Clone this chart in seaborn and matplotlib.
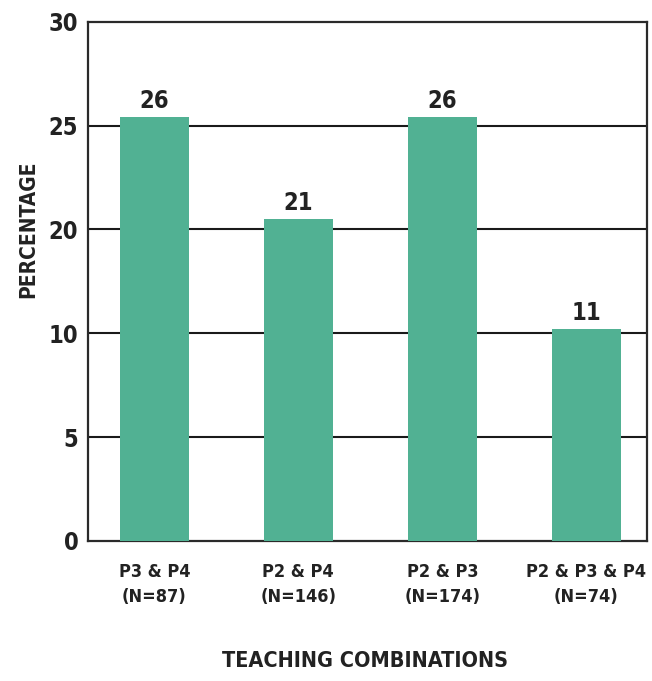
import numpy as np
import pandas as pd
import matplotlib
matplotlib.use("Agg")
import matplotlib.pyplot as plt
import seaborn as sns

categories = ["P3 & P4\n(N=87)", "P2 & P4\n(N=146)", "P2 & P3\n(N=174)", "P2 & P3 & P4\n(N=74)"]
heights = [25.4, 20.5, 25.4, 10.4]
value_labels = ["26", "21", "26", "11"]
yticks = [0, 5, 10, 20, 25, 30]

sns.set_theme(style="white")
plt.rcParams['font.family'] = ['DejaVu Sans']
plt.rcParams['font.stretch'] = 'condensed'
plt.rcParams['font.weight'] = 'bold'

df = pd.DataFrame({"cat": categories, "h": heights})

fig = plt.figure(figsize=(6.52, 6.81), dpi=100)
ax = fig.add_axes([0.135, 0.2056, 0.857, 0.7624])

tick_pos = np.arange(len(yticks), dtype=float)
fwd = lambda y: np.interp(y, yticks, tick_pos)
inv = lambda y: np.interp(y, tick_pos, yticks)
ax.set_yscale('function', functions=(fwd, inv))

sns.barplot(data=df, x="cat", y="h", color="#51B193", saturation=1, width=0.48,
            linewidth=0, ax=ax, zorder=3)

ax.set_ylim(0, 30)
ax.set_xlim(-0.46, 3.42)
ax.set_yticks(yticks)
ax.set_yticklabels([str(t) for t in yticks])
for y in yticks[1:-1]:
    ax.axhline(y, color="#1a1a1a", lw=1.5, zorder=1)

for s in ax.spines.values():
    s.set_color("#2a2a2a")
    s.set_linewidth(1.6)
    s.set_visible(True)

ax.tick_params(axis='y', length=0, pad=7, labelsize=17, labelcolor="#222222")
ax.tick_params(axis='x', length=0, pad=16, labelsize=13, labelcolor="#222222")
for lbl in ax.get_xticklabels():
    lbl.set_linespacing(1.5)
    lbl.set_fontweight('bold')
for lbl in ax.get_yticklabels():
    lbl.set_fontweight('bold')

ax.bar_label(ax.containers[0], labels=value_labels, padding=3, fontsize=17,
             fontweight='bold', color="#222222")

ax.set_xlabel("TEACHING COMBINATIONS", fontsize=15.5, fontweight='bold', color="#222222")
ax.set_ylabel("PERCENTAGE", fontsize=15, fontweight='bold', color="#222222")
ax.xaxis.set_label_coords(0.496, -0.212)
ax.yaxis.set_label_coords(-0.089, 0.601)

fig.savefig("out.png", dpi=100)
